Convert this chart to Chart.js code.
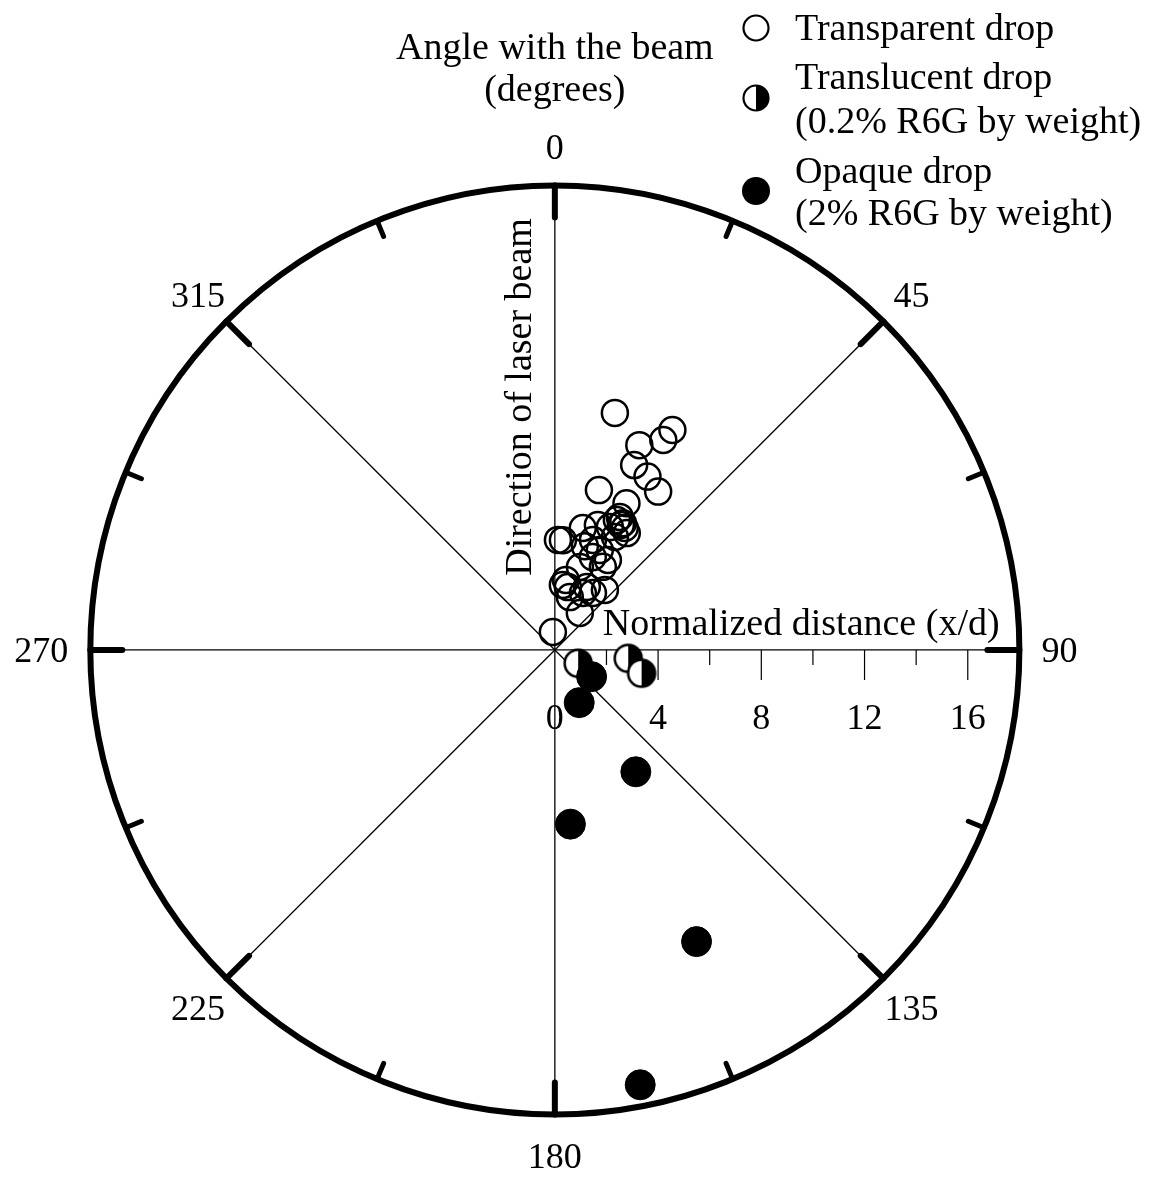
<!DOCTYPE html>
<html>
<head>
<meta charset="utf-8">
<script src="https://cdn.jsdelivr.net/npm/chart.js@4.4.1/dist/chart.umd.min.js"></script>
<style>
  html, body { margin: 0; padding: 0; background: #fff; }
  canvas { display: block; }
</style>
</head>
<body>
<canvas id="dropChart" width="1151" height="1180"></canvas>
<script>
// distance x/d and angle (deg, clockwise from the beam) of each drop fragment
const transparentDist = [9.48, 9.67, 9.16, 8.59, 7.80, 7.62, 7.33, 6.43, 6.33, 5.58, 5.74, 5.58, 5.22,
  5.32, 4.96, 4.85, 4.27, 4.27, 4.51, 3.89, 4.05, 3.36, 3.72, 2.54, 2.49, 2.74, 2.46, 2.66, 2.13,
  3.03, 1.73, 0.70, 4.19, 4.25, 2.75, 5.12, 5.48, 5.45];
const transparentAngle = [14.2, 28.1, 27.3, 22.4, 23.2, 28.1, 33.1, 15.4, 26.0, 25.5, 26.0, 28.2, 24.1,
  31.6, 28.0, 12.9, 1.6, 4.2, 19.1, 22.2, 30.5, 16.8, 30.0, 7.0, 11.7, 26.9, 26.2, 33.7, 15.8,
  39.8, 34.0, 353.7, 16.1, 24.2, 8.9, 19.0, 27.8, 29.8];

const translucentDist = [1.04, 2.86, 3.48];
const translucentAngle = [119.7, 96.5, 105.0];

const opaqueDist = [1.76, 2.25, 5.67, 6.78, 12.57, 17.18];
const opaqueAngle = [126.0, 155.2, 146.4, 174.9, 154.1, 168.9];

const radialTicks = [0, 4, 8, 12, 16];
const angleTicks = [0, 45, 90, 135, 180, 225, 270, 315];
const outerRadius = 18;

const FONT = '"Liberation Serif", "Times New Roman", serif';

function toPoints(dist, angle) {
  return dist.map((d, i) => {
    const a = angle[i] * Math.PI / 180;
    return { x: d * Math.sin(a), y: d * Math.cos(a) };
  });
}

// circle with the right half filled
function makeHalfDot(r, lw) {
  const size = Math.ceil(2 * r + lw + 2);
  const c = document.createElement('canvas');
  c.width = c.height = size;
  const g = c.getContext('2d');
  const m = size / 2;
  g.beginPath(); g.arc(m, m, r, 0, 2 * Math.PI); g.fillStyle = '#fff'; g.fill();
  g.beginPath(); g.moveTo(m, m - r); g.arc(m, m, r, -Math.PI / 2, Math.PI / 2); g.closePath();
  g.fillStyle = '#000'; g.fill();
  g.beginPath(); g.arc(m, m, r, 0, 2 * Math.PI); g.lineWidth = lw; g.strokeStyle = '#000'; g.stroke();
  return c;
}

const halfDot = makeHalfDot(13.5, 2.5);
const halfDotLegend = makeHalfDot(12.5, 2.2);

const polarFrame = {
  id: 'polarFrame',
  beforeDatasetsDraw(chart) {
    const { ctx, scales: { x, y } } = chart;
    const cx = x.getPixelForValue(0), cy = y.getPixelForValue(0);
    const R = x.getPixelForValue(outerRadius) - cx;
    const pt = (rad, deg) => [cx + rad * Math.sin(deg * Math.PI / 180), cy - rad * Math.cos(deg * Math.PI / 180)];

    ctx.save();
    ctx.strokeStyle = '#000';
    ctx.fillStyle = '#000';

    // spokes every 45 degrees
    ctx.lineWidth = 1.3;
    angleTicks.forEach(a => {
      const [ex, ey] = pt(R, a);
      ctx.beginPath(); ctx.moveTo(cx, cy); ctx.lineTo(ex, ey); ctx.stroke();
    });

    // distance ticks under the 90 degree spoke
    ctx.lineWidth = 1.2;
    for (let v = 2; v <= 16; v += 2) {
      const px = x.getPixelForValue(v);
      const len = v % 4 === 0 ? 30 : 15;
      ctx.beginPath(); ctx.moveTo(px, cy); ctx.lineTo(px, cy + len); ctx.stroke();
    }
    ctx.font = '36px ' + FONT;
    ctx.textAlign = 'center';
    ctx.textBaseline = 'middle';
    radialTicks.forEach(v => ctx.fillText(String(v), x.getPixelForValue(v), cy + 70));

    // outer ring
    ctx.lineWidth = 6;
    ctx.beginPath(); ctx.arc(cx, cy, R, 0, 2 * Math.PI); ctx.stroke();

    // ring ticks
    ctx.lineCap = 'round';
    for (let a = 0; a < 360; a += 22.5) {
      const major = a % 45 === 0;
      const [x1, y1] = pt(R, a);
      const [x2, y2] = pt(R - (major ? 32 : 17), a);
      ctx.lineWidth = major ? 6 : 5;
      ctx.beginPath(); ctx.moveTo(x1, y1); ctx.lineTo(x2, y2); ctx.stroke();
    }

    // angle labels; the side ones sit a fixed gap off the ring
    angleTicks.forEach(a => {
      if (a === 90) {
        ctx.textAlign = 'left';
        ctx.fillText(String(a), cx + R + 22, cy + 3);
      } else if (a === 270) {
        ctx.textAlign = 'right';
        ctx.fillText(String(a), cx - R - 22, cy + 3);
      } else {
        const [lx, ly] = pt(R + 40, a);
        ctx.textAlign = 'center';
        ctx.fillText(String(a), lx, ly + 4);
      }
    });

    // axis titles
    ctx.font = '38px ' + FONT;
    ctx.textAlign = 'left';
    ctx.textBaseline = 'alphabetic';
    ctx.fillText('Normalized distance (x/d)', cx + 48, cy - 15);

    ctx.save();
    ctx.translate(cx - 24, cy - 253);
    ctx.rotate(-Math.PI / 2);
    ctx.textAlign = 'center';
    ctx.fillText('Direction of laser beam', 0, 0);
    ctx.restore();

    ctx.textAlign = 'center';
    ctx.fillText('Angle with the beam', cx, 59);
    ctx.fillText('(degrees)', cx, 101);
    ctx.restore();
  },
  afterDraw(chart) {
    const { ctx } = chart;
    ctx.save();
    ctx.fillStyle = '#000';
    ctx.strokeStyle = '#000';
    const mx = 756, tx = 795;

    ctx.lineWidth = 2.2;
    ctx.beginPath(); ctx.arc(mx, 28, 12.5, 0, 2 * Math.PI); ctx.stroke();
    ctx.drawImage(halfDotLegend, mx - halfDotLegend.width / 2, 98 - halfDotLegend.height / 2);
    ctx.beginPath(); ctx.arc(mx, 191, 14, 0, 2 * Math.PI); ctx.fill();

    ctx.font = '38px ' + FONT;
    ctx.textAlign = 'left';
    ctx.textBaseline = 'alphabetic';
    ctx.fillText('Transparent drop', tx, 40);
    ctx.fillText('Translucent drop', tx, 89);
    ctx.fillText('(0.2% R6G by weight)', tx, 133);
    ctx.fillText('Opaque drop', tx, 183);
    ctx.fillText('(2% R6G by weight)', tx, 225);
    ctx.restore();
  }
};

const ctx = document.getElementById('dropChart').getContext('2d');

new Chart(ctx, {
  type: 'scatter',
  data: {
    datasets: [
      {
        label: 'Transparent drop',
        data: toPoints(transparentDist, transparentAngle),
        pointStyle: 'circle',
        pointRadius: 13,
        borderWidth: 2.5,
        borderColor: '#000',
        backgroundColor: 'rgba(0,0,0,0)',
        order: 3
      },
      {
        label: 'Translucent drop',
        data: toPoints(translucentDist, translucentAngle),
        pointStyle: halfDot,
        pointRadius: 14,
        order: 2
      },
      {
        label: 'Opaque drop',
        data: toPoints(opaqueDist, opaqueAngle),
        pointStyle: 'circle',
        pointRadius: 15,
        borderWidth: 1,
        borderColor: '#000',
        backgroundColor: '#000',
        order: 1
      }
    ]
  },
  options: {
    responsive: false,
    animation: false,
    events: [],
    layout: { padding: 0, autoPadding: false },
    plugins: {
      legend: { display: false },
      tooltip: { enabled: false }
    },
    scales: {
      x: { type: 'linear', min: -21.5, max: 23.1, display: false },
      y: { type: 'linear', min: -20.55, max: 25.2, display: false }
    }
  },
  plugins: [polarFrame]
});
</script>
</body>
</html>
